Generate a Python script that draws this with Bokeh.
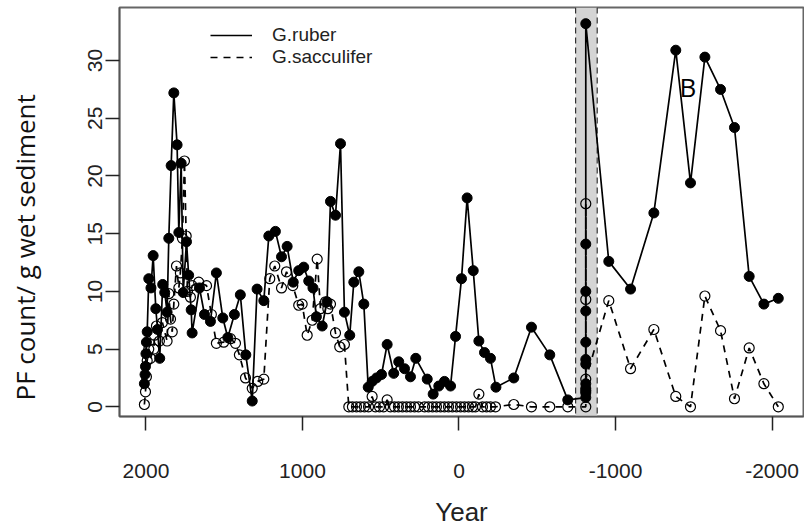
from bokeh.plotting import figure
from bokeh.models import (Range1d, FixedTicker, BoxAnnotation, Span, Legend,
                          LegendItem, Label, Title)
from bokeh.embed import file_html
from bokeh.resources import INLINE

# ---------------- data ----------------
ruber_year = [2010, 2006, 2003, 2000, 1997, 1992, 1982, 1968, 1954, 1937, 1926, 1912,
              1893, 1880, 1865, 1854, 1839, 1822, 1801, 1790, 1775, 1762, 1741, 1727,
              1711, 1705, 1658, 1626, 1588, 1550, 1509, 1477, 1435, 1397, 1362, 1321,
              1290, 1247, 1215, 1173, 1134, 1098, 1059, 1024, 992, 960, 933, 911,
              874, 843, 821, 789, 757, 732, 698, 672, 640, 608, 580, 555, 527, 495,
              459, 417, 385, 348, 310, 276, 203, 165, 129, 93, 54, 22, -16, -52,
              -91, -127, -163, -201, -236, -350, -463, -580, -695,
              -810, -810, -810, -810, -810, -810, -810, -810, -810, -810, -810,
              -957, -1096, -1245, -1385, -1479, -1571, -1671, -1760, -1854, -1948, -2040]
ruber_count = [2.0, 2.8, 3.5, 4.6, 5.6, 6.5, 11.1, 10.3, 13.1, 8.5, 6.7, 4.2,
               10.6, 9.9, 8.2, 14.6, 20.9, 27.2, 22.7, 15.1, 21.1, 9.9, 14.3, 11.4,
               8.4, 6.4, 10.3, 8.0, 7.4, 11.6, 7.7, 6.0, 8.0, 9.7, 4.5, 0.5,
               10.2, 9.2, 14.8, 15.2, 13.0, 13.9, 10.8, 11.8, 12.1, 10.9, 10.3, 7.8,
               7.0, 9.1, 17.8, 16.6, 22.8, 8.2, 6.2, 10.8, 11.7, 8.9, 1.7, 2.2, 2.5, 2.8,
               5.4, 2.9, 3.9, 3.3, 2.6, 4.2, 2.4, 1.1, 1.8, 2.2, 1.8, 6.1, 11.1, 18.1,
               11.8, 5.7, 4.7, 4.2, 1.7, 2.5, 6.9, 4.5, 0.6,
               0.8, 1.2, 1.6, 2.0, 3.7, 4.1, 5.6, 8.3, 10.0, 14.1, 33.2,
               12.6, 10.2, 16.8, 30.9, 19.4, 30.3, 27.5, 24.2, 11.3, 8.9, 9.4]

sacc_year = [2010, 2003, 1997, 1992, 1982, 1971, 1950, 1946, 1933, 1914, 1895, 1865,
             1854, 1843, 1832, 1822, 1805, 1790, 1780, 1767, 1754, 1743, 1735, 1716,
             1705, 1663, 1613, 1582, 1550, 1503, 1460, 1428, 1403, 1364, 1321, 1286,
             1247, 1209, 1177, 1134, 1102, 1062, 1024, 1002, 970, 938, 906, 885,
             853, 838, 821, 789, 762, 732,
             704, 681, 655, 630, 604, 578, 555, 534, 508, 482, 459, 438, 412, 387,
             361, 335, 310, 284, 259, 220, 195, 169, 144, 118, 93, 67, 42, 16,
             -10, -35, -61, -86, -105, -127, -150, -176, -201, -233, -350, -463,
             -580, -695, -810, -810, -810, -810, -810,
             -957, -1096, -1245, -1385, -1479, -1571, -1671, -1760, -1854, -1948, -2040]
sacc_count = [0.2, 1.3, 2.6, 4.0, 5.0, 4.2, 5.0, 6.2, 7.0, 5.7, 7.3, 5.7,
              9.8, 7.6, 6.5, 8.9, 12.2, 10.3, 11.6, 14.6, 21.3, 14.8, 10.0, 9.5,
              10.5, 10.8, 10.5, 8.0, 5.5, 5.6, 5.9, 5.5, 4.5, 2.5, 1.6, 2.2,
              2.4, 11.1, 12.2, 10.3, 11.7, 10.5, 8.8, 8.9, 6.2, 7.5, 12.8, 8.5,
              9.1, 8.5, 8.9, 6.4, 5.2, 5.4,
              0, 0, 0, 0, 0, 0, 0.9, 0, 0, 0, 0.6, 0, 0, 0,
              0, 0, 0, 0, 0, 0, 0, 0, 0, 0, 0, 0, 0, 0,
              0, 0, 0, 0, 0, 1.1, 0, 0, 0, 0, 0.2, 0,
              0, 0, 0, 17.6, 9.3, 1.4, 2.4,
              9.2, 3.3, 6.7, 0.9, 0, 9.6, 6.6, 0.7, 5.1, 2.0, 0]

x_ticks = [2000, 1000, 0, -1000, -2000]
x_tick_labels = ["2000", "1000", "0", "-1000", "-2000"]
y_ticks = [0, 5, 10, 15, 20, 25, 30]
event_start, event_end = -745, -883          # shaded interval (years)
panel_letter, letter_year, letter_count = "B", -1462, 27.7
y_title = "PF count/ g wet sediment"

# ---------------- figure ----------------
p = figure(width=804, height=529, output_backend="svg", toolbar_location=None,
           x_range=Range1d(2169, -2201), y_range=Range1d(-0.84, 34.6),
           min_border_left=119, min_border_right=1, min_border_top=7,
           min_border_bottom=111)
p.grid.visible = False
p.outline_line_color = "#666666"
p.outline_line_width = 2
p.background_fill_color = "white"
p.border_fill_color = "white"

# shaded event band with dashed borders
p.add_layout(BoxAnnotation(left=event_end, right=event_start, fill_color="#d4d4d4",
                           fill_alpha=1.0, line_alpha=0, level="underlay"))
for xv in (event_start, event_end):
    p.add_layout(Span(location=xv, dimension="height", line_color="#333333",
                      line_width=1.2, line_dash="6 4", level="underlay"))

# series
r_line = p.line(ruber_year, ruber_count, line_color="black", line_width=1.7)
s_line = p.line(sacc_year, sacc_count, line_color="black", line_width=1.7,
                line_dash="7 6")
p.scatter(sacc_year, sacc_count, marker="circle", size=10, fill_alpha=0,
          line_color="black", line_width=1.2)
p.scatter(ruber_year, ruber_count, marker="circle", size=10, fill_color="black",
          line_color="black")

# legend
legend = Legend(items=[LegendItem(label="G.ruber", renderers=[r_line]),
                       LegendItem(label="G.sacculifer", renderers=[s_line])],
                location=(91, 348), orientation="vertical",
                border_line_alpha=0, background_fill_alpha=0,
                glyph_width=42, glyph_height=16, label_standoff=20,
                spacing=-3, padding=0, margin=0,
                label_text_font="Liberation Sans", label_text_font_size="19px",
                label_text_color="#222222")
p.add_layout(legend)

p.add_layout(Label(x=letter_year, y=letter_count, text=panel_letter,
                   text_font="Open Sans", text_font_size="26px",
                   text_align="center", text_baseline="middle", text_color="black"))

# y axis title: a thin empty spacer panel, then a bottom-anchored side title
p.add_layout(Title(text=" ", text_font_size="2px", standoff=39), "left")
p.add_layout(Title(text=y_title, align="left", offset=16, standoff=0,
                   text_font="Open Sans", text_font_size="26px",
                   text_font_style="normal", text_color="#111111"), "left")

# axes
p.xaxis.ticker = FixedTicker(ticks=x_ticks)
p.xaxis.major_label_overrides = {t: l for t, l in zip(x_ticks, x_tick_labels)}
p.yaxis.ticker = FixedTicker(ticks=y_ticks)
for ax in (p.xaxis[0], p.yaxis[0]):
    ax.axis_line_color = "#555555"
    ax.axis_line_width = 1.5
    ax.major_tick_line_color = "#222222"
    ax.major_tick_line_width = 1.5
    ax.major_tick_out = 14
    ax.major_tick_in = 0
    ax.minor_tick_out = 0
    ax.minor_tick_in = 0
    ax.major_label_text_font = "Liberation Sans"
    ax.major_label_text_font_size = "21px"
    ax.major_label_text_color = "#222222"
    ax.axis_label_text_font_style = "normal"
    ax.axis_label_text_color = "#222222"

p.yaxis.major_label_orientation = "vertical"
p.yaxis.major_label_standoff = 3
p.xaxis.major_label_standoff = 33
p.xaxis.axis_label = "Year"
p.xaxis.axis_label_text_font = "Liberation Sans"
p.xaxis.axis_label_text_font_size = "26px"
p.xaxis.axis_label_standoff = 16

open("out.html", "w").write(file_html(p, INLINE))
